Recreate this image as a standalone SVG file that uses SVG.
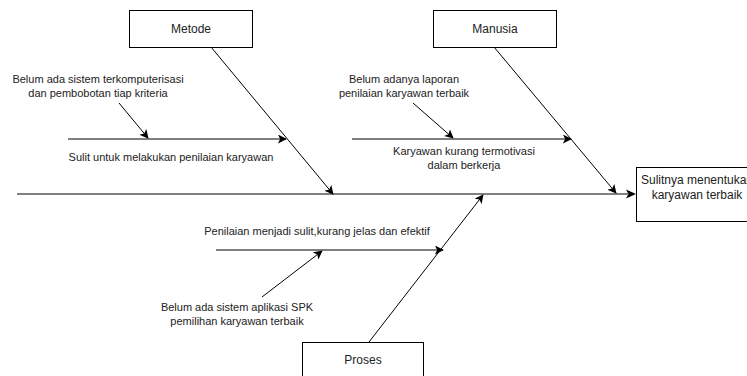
<svg xmlns="http://www.w3.org/2000/svg" width="747" height="376" viewBox="0 0 747 376">
<style>
.box{fill:#fff;stroke:#000;stroke-width:1}
.ln{stroke:#000;stroke-width:1;fill:none;marker-end:url(#arr)}
.spine{stroke:#808080;stroke-width:2;fill:none}
text{font-family:"Liberation Sans",Arial,sans-serif;font-size:11px;fill:#222;text-anchor:middle}
.lbl{font-size:12px}
</style>
<defs>
<marker id="arr" viewBox="0 0 10 10" refX="9" refY="5" markerWidth="9" markerHeight="9" markerUnits="userSpaceOnUse" orient="auto">
<path d="M0,0 L10,5 L0,10 L2.5,5 Z" fill="#000"/>
</marker>
</defs>
<rect width="747" height="376" fill="#fff"/>
<g id="connectors">
<line class="spine" x1="17" y1="194" x2="628" y2="194"/>
<path d="M626,189.5 L636,194 L626,198.5 L628.5,194 Z" fill="#000"/>
<line class="ln" x1="211" y1="47" x2="333" y2="194"/>
<line class="ln" x1="494" y1="47" x2="616" y2="193"/>
<line class="ln" x1="369" y1="342" x2="483" y2="195"/>
<line class="ln" x1="68" y1="139" x2="286" y2="139"/>
<line class="ln" x1="119" y1="103" x2="148" y2="138"/>
<line class="ln" x1="352" y1="139" x2="571" y2="139"/>
<line class="ln" x1="413" y1="103" x2="453" y2="138"/>
<line class="ln" x1="216" y1="250" x2="443" y2="250"/>
<line class="ln" x1="262" y1="297" x2="322" y2="251"/>
</g>
<g id="metode">
<rect class="box" x="129.5" y="10.5" width="123" height="37"/>
<text class="lbl" x="191" y="33">Metode</text>
</g>
<g id="manusia">
<rect class="box" x="433.5" y="10.5" width="123" height="37"/>
<text class="lbl" x="495" y="33">Manusia</text>
</g>
<g id="proses">
<rect class="box" x="302.5" y="342.5" width="121" height="40"/>
<text class="lbl" x="363" y="364">Proses</text>
</g>
<g id="effect">
<rect class="box" x="636.5" y="167.5" width="122" height="54"/>
<text class="lbl" x="697" y="184">Sulitnya menentukan</text>
<text class="lbl" x="697" y="199">karyawan terbaik</text>
</g>
<g id="cause1">
<text x="98" y="83">Belum ada sistem terkomputerisasi</text>
<text x="98" y="97">dan pembobotan tiap kriteria</text>
</g>
<g id="sub1">
<text x="171" y="161">Sulit untuk melakukan penilaian karyawan</text>
</g>
<g id="cause2">
<text x="404" y="83">Belum adanya laporan</text>
<text x="404" y="97">penilaian karyawan terbaik</text>
</g>
<g id="sub2">
<text x="464" y="155">Karyawan kurang termotivasi</text>
<text x="464" y="169">dalam berkerja</text>
</g>
<g id="sub3">
<text x="317" y="235">Penilaian menjadi sulit,kurang jelas dan efektif</text>
</g>
<g id="cause3">
<text x="237" y="311">Belum ada sistem aplikasi SPK</text>
<text x="237" y="325">pemilihan karyawan terbaik</text>
</g>
</svg>
